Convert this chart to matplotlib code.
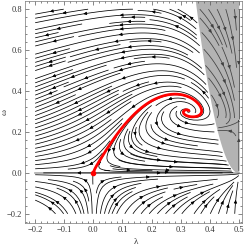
import numpy as np
import matplotlib
matplotlib.use("Agg")
import matplotlib.pyplot as plt

# ---- chart data / model parameters ----
x_ticks = [-0.2, -0.1, 0.0, 0.1, 0.2, 0.3, 0.4, 0.5]
x_ticklabels = ["\u22120.2", "\u22120.1", "0.0", "0.1", "0.2", "0.3", "0.4", "0.5"]
y_ticks = [-0.2, 0.0, 0.2, 0.4, 0.6, 0.8]
y_ticklabels = ["\u22120.2", "0.0", "0.2", "0.4", "0.6", "0.8"]
x_domain = [-0.2, 0.5]
y_domain = [-0.2, 0.8]
focus = [0.325, 0.30]          # spiral point
kappa = 2.5
alpha = focus[0] / focus[1]
beta = 16.0
g_a, g_b, g_h, g_q, g_m = 1.0, 0.6, -0.7, 5.0, 4.0
gray_k = 0.163                 # gray boundary: lambda = 0.5 - k*sqrt(omega)
extra_seeds_x = [0.03, 0.05, 0.08, 0.12]
extra_seeds_y = [0.015, 0.04, 0.07, 0.10]

def ppart(w):
    return w / (1 + np.exp(-np.clip(w, -1, 1) / 0.015))

def field(L, W):
    X = L - focus[0]
    Y = W - focus[1]
    phi = (L * (1 - kappa * X) - alpha * ppart(W)
           - beta * np.clip(Y, 0, None) ** 2 * (0.5 - L) ** 2)
    U = (1 - 2 * L) * phi
    g = g_a * X + g_b * Y + g_h * X * Y - g_q * X ** 2 + g_m * np.clip(W, None, 0)
    V = W * g
    return U, V

def in_gray(L, W):
    return (W > 0) & (L > 0.5 - gray_k * np.sqrt(np.clip(W, 0, None)))

fig = plt.figure(figsize=(2.49, 2.48), dpi=100)
ax = fig.add_axes([25 / 249, 1 - 223 / 248, 217 / 249, 222 / 248])

# gray region
wg = np.linspace(0, 0.845, 200)
ax.fill_betweenx(wg, 0.5 - gray_k * np.sqrt(wg), 0.5, color="#b3b3b3", lw=0, zorder=0)

n = 240
L = np.linspace(x_domain[0], x_domain[1], n)
W = np.linspace(y_domain[0], y_domain[1], n)
LL, WW = np.meshgrid(L, W)
U, V = field(LL, WW)
g = in_gray(LL, WW)

Um = np.ma.array(U, mask=g)
Vm = np.ma.array(V, mask=g)
ax.streamplot(L, W, Um, Vm, density=1.7, color="black", linewidth=0.55,
              arrowsize=0.45, arrowstyle="-|>", zorder=2)
seeds = np.column_stack([extra_seeds_x, extra_seeds_y])
ax.streamplot(L, W, Um, Vm, start_points=seeds, integration_direction="forward",
              density=3, color="black", linewidth=0.55,
              arrowsize=0.45, arrowstyle="-|>", zorder=2)
Ug = np.ma.array(-U, mask=~g)
Vg = np.ma.array(-V, mask=~g)
ax.streamplot(L, W, Ug, Vg, density=1.6, color="#404040", linewidth=0.55,
              arrowsize=0.45, arrowstyle="-|>", zorder=2)

# invariant line
ax.plot([-0.2, 0.5], [0, 0], color="#aaaaaa", lw=1.2, zorder=1)

# red trajectory: backward integration (arc length) from origin along stable direction
def F(p):
    u, v = field(p[0], p[1])
    d = np.array([u, v])
    return d / (np.hypot(u, v) + 1e-12)

p = np.array([0.19, 1.0]) * 2e-3
pts = [np.array([0.0, 0.0]), p.copy()]
h = -0.002
for _ in range(20000):
    k1 = F(p); k2 = F(p + h / 2 * k1); k3 = F(p + h / 2 * k2); k4 = F(p + h * k3)
    p = p + h / 6 * (k1 + 2 * k2 + 2 * k3 + k4)
    pts.append(p.copy())
    if np.hypot(p[0] - focus[0], p[1] - focus[1]) < 0.006:
        break
    if not (-0.25 < p[0] < 0.55 and -0.25 < p[1] < 0.85):
        break
pts = np.array(pts)
ax.plot(pts[:, 0], pts[:, 1], color="red", lw=2, zorder=3, solid_capstyle="round")
ax.plot([0], [0], "o", color="red", ms=3, zorder=4)

ax.set_xlim(-0.235, 0.511)
ax.set_ylim(-0.245, 0.84)
ax.set_xticks(x_ticks)
ax.set_xticklabels(x_ticklabels)
ax.set_yticks(y_ticks)
ax.set_yticklabels(y_ticklabels)
ax.set_xticks(np.arange(-0.22, 0.51, 0.02), minor=True)
ax.set_yticks(np.arange(-0.24, 0.84, 0.04), minor=True)
ax.tick_params(which="both", direction="in", top=True, right=True,
               labelsize=6, width=0.5, colors="#555555", labelcolor="#333333", pad=2)
ax.tick_params(which="major", length=3)
ax.tick_params(which="minor", length=1.5)
for lab in ax.get_xticklabels() + ax.get_yticklabels():
    lab.set_family("Liberation Serif")
for s in ax.spines.values():
    s.set_linewidth(0.5)
    s.set_color("#777777")
fig.text(136 / 249, 1 - 242 / 248, "\u03bb", family="Liberation Serif", fontsize=6.5,
         ha="center", va="center", color="#333333")
fig.text(5 / 249, 1 - 112 / 248, "\u03c9", family="Liberation Serif", fontsize=6.5,
         ha="center", va="center", rotation=90, color="#333333")

fig.savefig("out.png", dpi=100)
